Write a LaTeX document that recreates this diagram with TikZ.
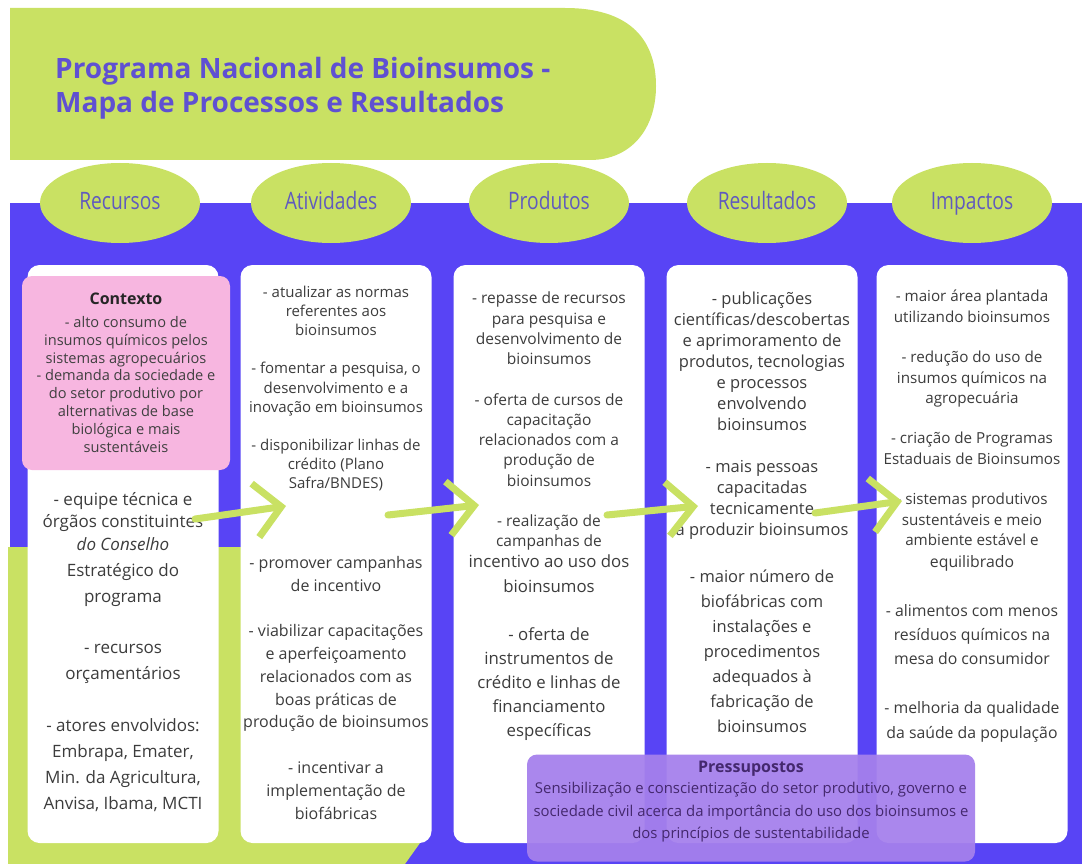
\documentclass[tikz,border=0pt]{standalone}
\usepackage{fontspec}
\setmainfont{Open Sans}
\newfontfamily\phasefont[FakeStretch=0.8]{Open Sans}
\usetikzlibrary{arrows.meta,shapes.geometric}

\definecolor{bandpurple}{RGB}{88,68,245}
\definecolor{leafgreen}{RGB}{201,225,99}
\definecolor{titleblue}{RGB}{95,80,210}
\definecolor{phaseblue}{RGB}{96,90,190}
\definecolor{bodygrey}{RGB}{60,60,60}
\definecolor{ctxpink}{RGB}{247,182,224}
\definecolor{prespurple}{RGB}{165,128,236}
\definecolor{presdark}{RGB}{68,40,110}

\begin{document}
\begin{tikzpicture}[x=1pt, y=-1pt,
    phase/.style={ellipse, fill=leafgreen, minimum width=160pt, minimum height=80pt, inner sep=0pt, text height=17pt, text depth=5pt, text=phaseblue, font=\phasefont\fontsize{24}{28}\selectfont},
    column/.style={rectangle, rounded corners=12pt, fill=white, minimum width=191pt, minimum height=578pt, inner sep=0pt},
    item/.style={align=center, text=bodygrey, inner sep=0pt, anchor=north},
    arrow/.style={-{Straight Barb[length=26pt, width=54pt]}, draw=leafgreen, line width=7pt, line cap=round}
]
\useasboundingbox (0,0) rectangle (1082,864);
\fill[white] (0,0) rectangle (1082,864);

% Title
\fill[leafgreen] (10,8) -- (565,8) .. controls (640,8) and (656,50) .. (656,86)
    .. controls (656,130) and (630,160) .. (590,160) -- (10,160) -- cycle;
\node[anchor=north west, align=left, inner sep=0pt, text=titleblue, font=\bfseries\fontsize{28}{34}\selectfont] (title) at (55,57)
    {Programa Nacional de Bioinsumos -\\Mapa de Processos e Resultados};

% Background
\fill[bandpurple] (10,203) rectangle (1082,864);
\fill[leafgreen] (8,547) -- (420,547) -- (420,843) -- (405,864) -- (8,864) -- cycle;

% Phases
\node[phase] (recursos) at (120,203) {Recursos};
\node[phase] (atividades) at (331,203) {Atividades};
\node[phase] (produtos) at (549,203) {Produtos};
\node[phase] (resultados) at (767,203) {Resultados};
\node[phase] (impactos) at (972,203) {Impactos};

% Columns
\node[column] (recursosbox) at (123,554) {};
\node[column] (atividadesbox) at (336,554) {};
\node[column] (produtosbox) at (549,554) {};
\node[column] (resultadosbox) at (762,554) {};
\node[column] (impactosbox) at (972,554) {};

% Contexto
\node[rectangle, rounded corners=10pt, fill=ctxpink, minimum width=208pt, minimum height=194pt] (contexto) at (126,373) {};
\node[item, font=\bfseries\fontsize{16}{18}\selectfont, text=black!85] (ctxhead) at (126,293) {Contexto};
\node[item, font=\fontsize{14.6}{17.9}\selectfont, text=black!75] (ctxtext) at (126,316)
    {- alto consumo de\\insumos químicos pelos\\sistemas agropecuários\\- demanda da sociedade e\\do setor produtivo por\\alternativas de base\\biológica e mais\\sustentáveis};

% Recursos
\node[item, font=\fontsize{17}{22.5}\selectfont] (rectop) at (123,492)
    {- equipe técnica e\\órgãos constituintes\\\textit{do Conselho}};
\node[item, font=\fontsize{17}{25.9}\selectfont] (recbottom) at (123,563)
    {Estratégico do\\programa\\[25.9pt]- recursos\\orçamentários\\[25.9pt]- atores envolvidos:\\Embrapa, Emater,\\Min. da Agricultura,\\Anvisa, Ibama, MCTI};

% Atividades
\node[item, font=\fontsize{15}{19.1}\selectfont] (atitop) at (336,286)
    {- atualizar as normas\\referentes aos\\bioinsumos\\[19.1pt]- fomentar a pesquisa, o\\desenvolvimento e a\\inovação em bioinsumos\\[19.1pt]- disponibilizar linhas de\\crédito (Plano\\Safra/BNDES)};
\node[item, font=\fontsize{16}{22.8}\selectfont] (atibottom) at (336,556)
    {- promover campanhas\\de incentivo\\[22.8pt]- viabilizar capacitações\\e aperfeiçoamento\\relacionados com as\\boas práticas de\\produção de bioinsumos\\[22.8pt]- incentivar a\\implementação de\\biofábricas};

% Produtos
\node[item, font=\fontsize{15.5}{20.25}\selectfont] (prodtop) at (549,292)
    {- repasse de recursos\\para pesquisa e\\desenvolvimento de\\bioinsumos\\[20.25pt]- oferta de cursos de\\capacitação\\relacionados com a\\produção de\\bioinsumos\\[20.25pt]- realização de\\campanhas de};
\node[item, font=\fontsize{16.8}{24.1}\selectfont] (prodbottom) at (549,555)
    {incentivo ao uso dos\\bioinsumos\\[24.1pt]- oferta de\\instrumentos de\\crédito e linhas de\\financiamento\\específicas};

% Resultados
\node[item, font=\fontsize{16.5}{21}\selectfont] (restop) at (762,292)
    {- publicações\\científicas/descobertas\\e aprimoramento de\\produtos, tecnologias\\e processos\\envolvendo\\bioinsumos\\[21pt]- mais pessoas\\capacitadas\\tecnicamente\\a produzir bioinsumos};
\node[item, font=\fontsize{16.5}{25}\selectfont] (resbottom) at (762,570)
    {- maior número de\\biofábricas com\\instalações e\\procedimentos\\adequados à\\fabricação de\\bioinsumos};

% Impactos
\node[item, font=\fontsize{15.2}{20.3}\selectfont] (imptop) at (972,290)
    {- maior área plantada\\utilizando bioinsumos\\[20.3pt]- redução do uso de\\insumos químicos na\\agropecuária\\[20.3pt]- criação de Programas\\Estaduais de Bioinsumos\\[20.3pt]- sistemas produtivos\\sustentáveis e meio\\ambiente estável e};
\node[item, font=\fontsize{15.8}{24.4}\selectfont] (impbottom) at (972,555)
    {equilibrado\\[24.4pt]- alimentos com menos\\resíduos químicos na\\mesa do consumidor\\[24.4pt]- melhoria da qualidade\\da saúde da população};

% Pressupostos
\node[rectangle, rounded corners=10pt, fill=prespurple, fill opacity=0.94, minimum width=448pt, minimum height=107pt] (pressupostos) at (751,808) {};
\node[item, font=\bfseries\fontsize{16}{18}\selectfont, text=presdark] (preshead) at (751,761) {Pressupostos};
\node[item, font=\fontsize{14.9}{22.5}\selectfont, text=presdark] (prestext) at (751,782)
    {Sensibilização e conscientização do setor produtivo, governo e\\sociedade civil acerca da importância do uso dos bioinsumos e\\dos princípios de sustentabilidade};

% Flow arrows
\coordinate (a1s) at (195,519);
\coordinate (a1e) at (286,506);
\coordinate (a2s) at (388,515);
\coordinate (a2e) at (479,505);
\coordinate (a3s) at (607,515);
\coordinate (a3e) at (698,506);
\coordinate (a4s) at (815,513);
\coordinate (a4e) at (902,501);
\draw[arrow] (a1s) -- (a1e);
\draw[arrow] (a2s) -- (a2e);
\draw[arrow] (a3s) -- (a3e);
\draw[arrow] (a4s) -- (a4e);

\end{tikzpicture}
\end{document}
